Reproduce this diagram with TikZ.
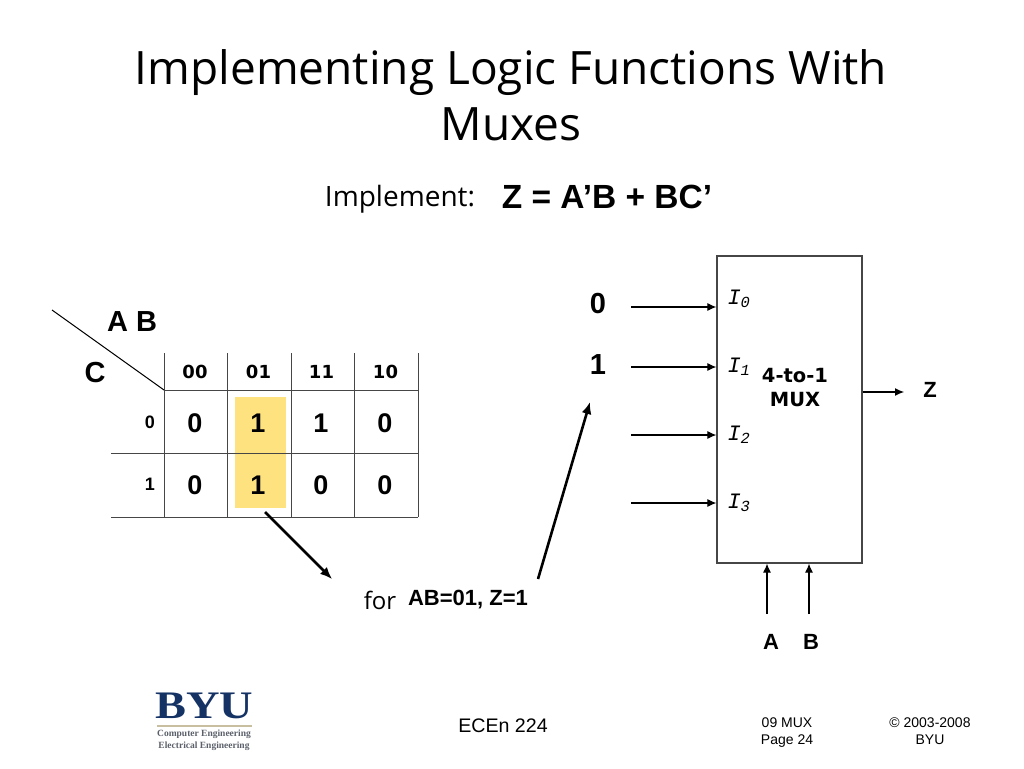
\documentclass[tikz,border=0pt]{standalone}
\usepackage{fontspec}
\setmainfont{Liberation Sans}
\newfontfamily\comicfont{Open Sans}
\newfontfamily\muxfont{DejaVu Sans}
\newfontfamily\inputfont{Liberation Mono}
\newfontfamily\logofont{Liberation Serif}
\usetikzlibrary{positioning,arrows.meta}
\definecolor{kmYellow}{RGB}{255,226,128}
\definecolor{kmLine}{RGB}{70,70,70}
\definecolor{byuNavy}{RGB}{20,50,100}
\definecolor{byuTan}{RGB}{200,190,160}
\definecolor{byuGray}{RGB}{90,95,105}
\tikzset{
  cellbit/.style={font=\fontsize{27}{27}\selectfont\bfseries},
  headbit/.style={font=\fontsize{18}{18}\selectfont\muxfont\bfseries},
  sidebit/.style={font=\fontsize{18}{18}\selectfont\bfseries},
  bigbit/.style={font=\fontsize{29}{29}\selectfont\bfseries},
  selbit/.style={font=\fontsize{22}{22}\selectfont\bfseries},
  inlabel/.style={font=\fontsize{22}{22}\selectfont\inputfont\itshape},
  wire/.style={-{Latex[length=9pt,width=8pt]}, line width=1.1pt},
  bigarrow/.style={-{Latex[length=12pt,width=10pt]}, line width=2.6pt},
  footer/.style={font=\fontsize{14}{17}\selectfont, align=center}
}
\begin{document}
\begin{tikzpicture}[x=1pt, y=-1pt]
  \useasboundingbox (0,0) rectangle (1024,768);

  % Title
  \node[font=\fontsize{46}{56}\selectfont\comicfont, align=center] (title) at (511,95) {Implementing Logic Functions With\\Muxes};
  \node[font=\fontsize{28}{28}\selectfont\comicfont] (implement) at (400,199) {Implement:};
  \node[font=\fontsize{33.5}{33.5}\selectfont\bfseries] (formula) at (607,197) {Z = A’B + BC’};

  % Karnaugh map
  \fill[kmYellow] (235,397) rectangle (286,508);
  \draw[kmLine, line width=1pt] (164,390) -- (418,390);
  \draw[kmLine, line width=1pt] (111,453.5) -- (418,453.5);
  \draw[kmLine, line width=1pt] (111,517) -- (418,517);
  \foreach \xpos in {164,227.5,291,354.5,418}
    \draw[kmLine, line width=1pt] (\xpos,353) -- (\xpos,517);
  \draw[line width=1pt] (52,310) -- (164,390);
  \node[bigbit] (ablabel) at (132,322) {A B};
  \node[bigbit] (clabel) at (95,373) {C};
  \foreach \xpos/\bits in {195/00,258.5/01,321.5/11,385.5/10}
    \node[headbit] (head\bits) at (\xpos,372) {\bits};
  \node[sidebit] (side0) at (150,422) {0};
  \node[sidebit] (side1) at (150,484) {1};

  % Map entries
  \node[cellbit] (c00) at (195,423) {0};
  \node[cellbit] (c01) at (258,423) {1};
  \node[cellbit] (c02) at (321,423) {1};
  \node[cellbit] (c03) at (385,423) {0};
  \node[cellbit] (c10) at (195,485) {0};
  \node[cellbit] (c11) at (258,485) {1};
  \node[cellbit] (c12) at (321,485) {0};
  \node[cellbit] (c13) at (385,485) {0};

  % Note under the map
  \node[font=\fontsize{24}{24}\selectfont\comicfont] (forlabel) at (380,600) {for};
  \node[font=\fontsize{22}{22}\selectfont\bfseries] (forvalue) at (468,600) {AB=01, Z=1};
  \coordinate (mapout) at (265,512);
  \coordinate (notein) at (332,579);
  \coordinate (noteout) at (538,579);
  \coordinate (onein) at (590,402);
  \draw[bigarrow] (mapout) -- (notein);
  \draw[bigarrow] (noteout) -- (onein);

  % Mux
  \node[draw=kmLine, line width=1.2pt, minimum width=145pt, minimum height=307pt, inner sep=0pt] (mux) at (789.5,409.5) {};
  \node[font=\fontsize{19.5}{24}\selectfont\muxfont\bfseries, align=center] (muxname) at (795,388) {4-to-1\\MUX};
  \node[bigbit] (zero) at (598,304) {0};
  \node[bigbit] (one) at (598,365) {1};
  \foreach \idx/\ypos in {0/307,1/367,2/435,3/503} {
    \coordinate (in\idx) at (631,\ypos);
    \draw[wire] (in\idx) -- (mux.west |- in\idx);
  }
  \node[inlabel] (i0) at (739,299) {I\textsubscript{0}};
  \node[inlabel] (i1) at (739,367) {I\textsubscript{1}};
  \node[inlabel] (i2) at (739,435) {I\textsubscript{2}};
  \node[inlabel] (i3) at (739,503) {I\textsubscript{3}};

  % Output and selects
  \coordinate (zout) at (904,392);
  \draw[wire] (mux.east |- zout) -- (zout);
  \node[selbit] (zlabel) at (930,390) {Z};
  \node[selbit] (alabel) at (771,642) {A};
  \node[selbit] (blabel) at (811,642) {B};
  \coordinate (atail) at (767,614);
  \coordinate (btail) at (809,614);
  \draw[wire] (atail) -- (atail |- mux.south);
  \draw[wire] (btail) -- (btail |- mux.south);

  % Footer
  \node[font=\fontsize{39}{39}\selectfont\logofont\bfseries, text=byuNavy, inner sep=0pt, xscale=1.19] (byu) at (204.5,706) {BYU};
  \draw[byuTan, line width=1.2pt] (157,726) -- (252,726);
  \node[font=\fontsize{9.5}{11.5}\selectfont\logofont\bfseries, text=byuGray, align=center, inner sep=0pt] (dept) at (204,740) {Computer Engineering\\Electrical Engineering};
  \node[font=\fontsize{19.6}{19.6}\selectfont] (course) at (503,726) {ECEn 224};
  \node[footer] (page) at (787,733) {09 MUX\\Page 24};
  \node[footer] (copyright) at (930,731) {© 2003-2008\\BYU};
\end{tikzpicture}
\end{document}
